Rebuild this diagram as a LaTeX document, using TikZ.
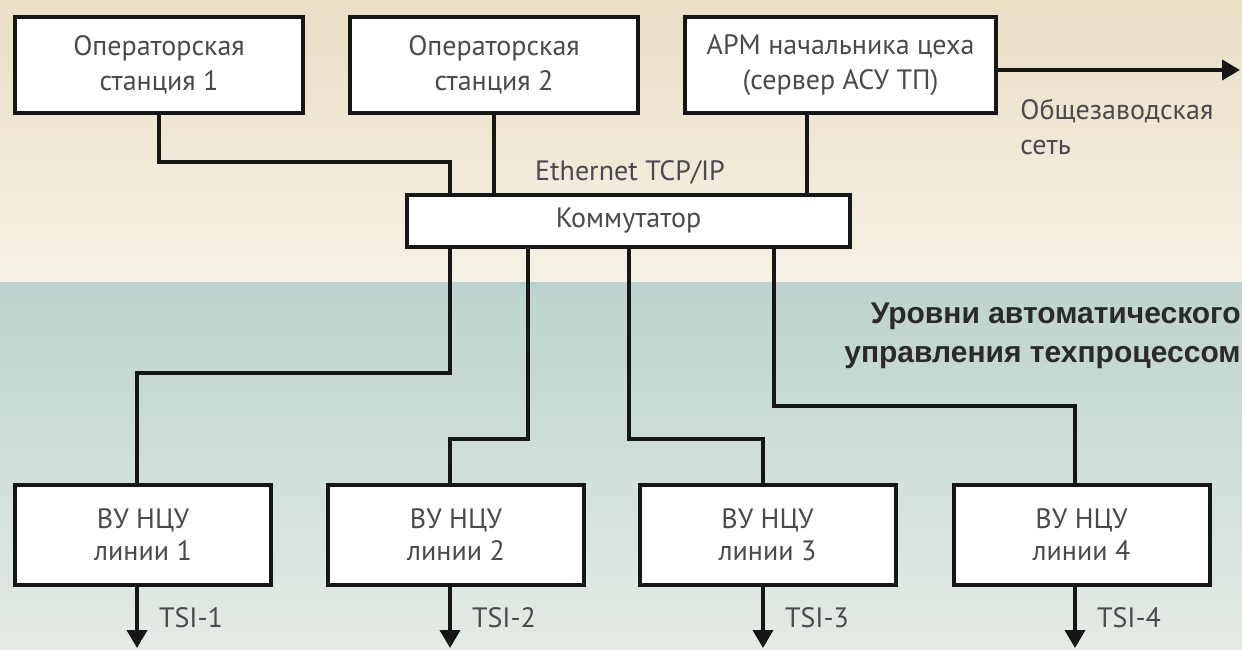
\documentclass[tikz,border=0pt]{standalone}
\usepackage{fontspec}
\setmainfont{PT Sans}
\newfontfamily\headfont{Liberation Sans}
\usetikzlibrary{arrows.meta,positioning,calc}
\definecolor{topbg}{RGB}{233,223,197}
\definecolor{topbgl}{RGB}{246,241,230}
\definecolor{botbg}{RGB}{189,210,206}
\definecolor{botbgl}{RGB}{229,235,229}
\definecolor{txt}{RGB}{74,74,78}
\definecolor{headtxt}{RGB}{42,42,42}
\definecolor{ln}{RGB}{22,22,22}
\tikzset{boxbase/.style={draw=ln,fill=white,line width=2pt,align=center,text=txt,inner sep=2pt,
  font=\fontsize{14}{17.5}\selectfont},
 ws/.style={boxbase,minimum width=144pt,minimum height=48pt},
 linebox/.style={boxbase,minimum width=128pt,minimum height=50pt,font=\fontsize{14}{16}\selectfont},
 wire/.style={draw=ln,line width=2pt},
 arr/.style={wire,-{Triangle[length=9pt,width=10pt]}},
 lbl/.style={text=txt,font=\fontsize{14}{17.5}\selectfont,inner sep=0pt}}
\begin{document}
\begin{tikzpicture}[x=0.5pt,y=-0.5pt]
\useasboundingbox (0,0) rectangle (1242,649);
% фон двух уровней
\shade[top color=topbg,bottom color=topbgl] (0,0) rectangle (1242,282);
\shade[top color=botbg,bottom color=botbgl] (0,282) rectangle (1242,649);
% верхний уровень
\node[ws] (os1) at (159,65) {Операторская\\станция 1};
\node[ws] (os2) at (494,65) {Операторская\\станция 2};
\node[ws,minimum width=155.5pt] (arm) at (840.5,65) {АРМ начальника цеха\\(сервер АСУ ТП)};
\node[boxbase,minimum width=221.5pt,minimum height=26pt] (sw) at (628.5,221) {Коммутатор};
\node[lbl] (eth) at (630,172) {Ethernet TCP/IP};
\coordinate (armdn) at ([xshift=-16.75pt]arm.south);
\coordinate (net) at (1240,70);
\draw[wire] (os1.south) -- ++(0,47) -| ([xshift=-89.25pt]sw.north);
\draw[wire] (os2.south) -- (os2.south |- sw.north);
\draw[wire] (armdn) -- (armdn |- sw.north);
\draw[arr] (arm.east |- net) -- (net);
\node[lbl,align=left,anchor=west] (plant) at (1020,127) {Общезаводская\\сеть};
\node[lbl,font=\headfont\bfseries\fontsize{15}{19.5}\selectfont,text=headtxt,align=right,anchor=east]
  (lvl) at (1241,336) {Уровни автоматического\\управления техпроцессом};
% нижний уровень
\foreach \i/\x in {1/143,2/456,3/767.5,4/1081.5}
  \node[linebox] (vu\i) at (\x,535) {ВУ НЦУ\\линии \i};
\draw[wire] ([xshift=-89.25pt]sw.south) -- ++(0,124) -| ([xshift=-3pt]vu1.north);
\draw[wire] ([xshift=-50.25pt]sw.south) -- ++(0,190) -| ([xshift=-3pt]vu2.north);
\draw[wire] ([xshift=0.25pt]sw.south) -- ++(0,190) -| ([xshift=-2.25pt]vu3.north);
\draw[wire] ([xshift=72.75pt]sw.south) -- ++(0,157) -| ([xshift=-3.25pt]vu4.north);
\foreach \i/\s in {1/-3,2/-3,3/-2.25,4/-3.25}
  \draw[arr] ([xshift=\s pt]vu\i.south) -- ++(0,61) node[lbl,midway,right=10pt] {TSI-\i};
\end{tikzpicture}
\end{document}
